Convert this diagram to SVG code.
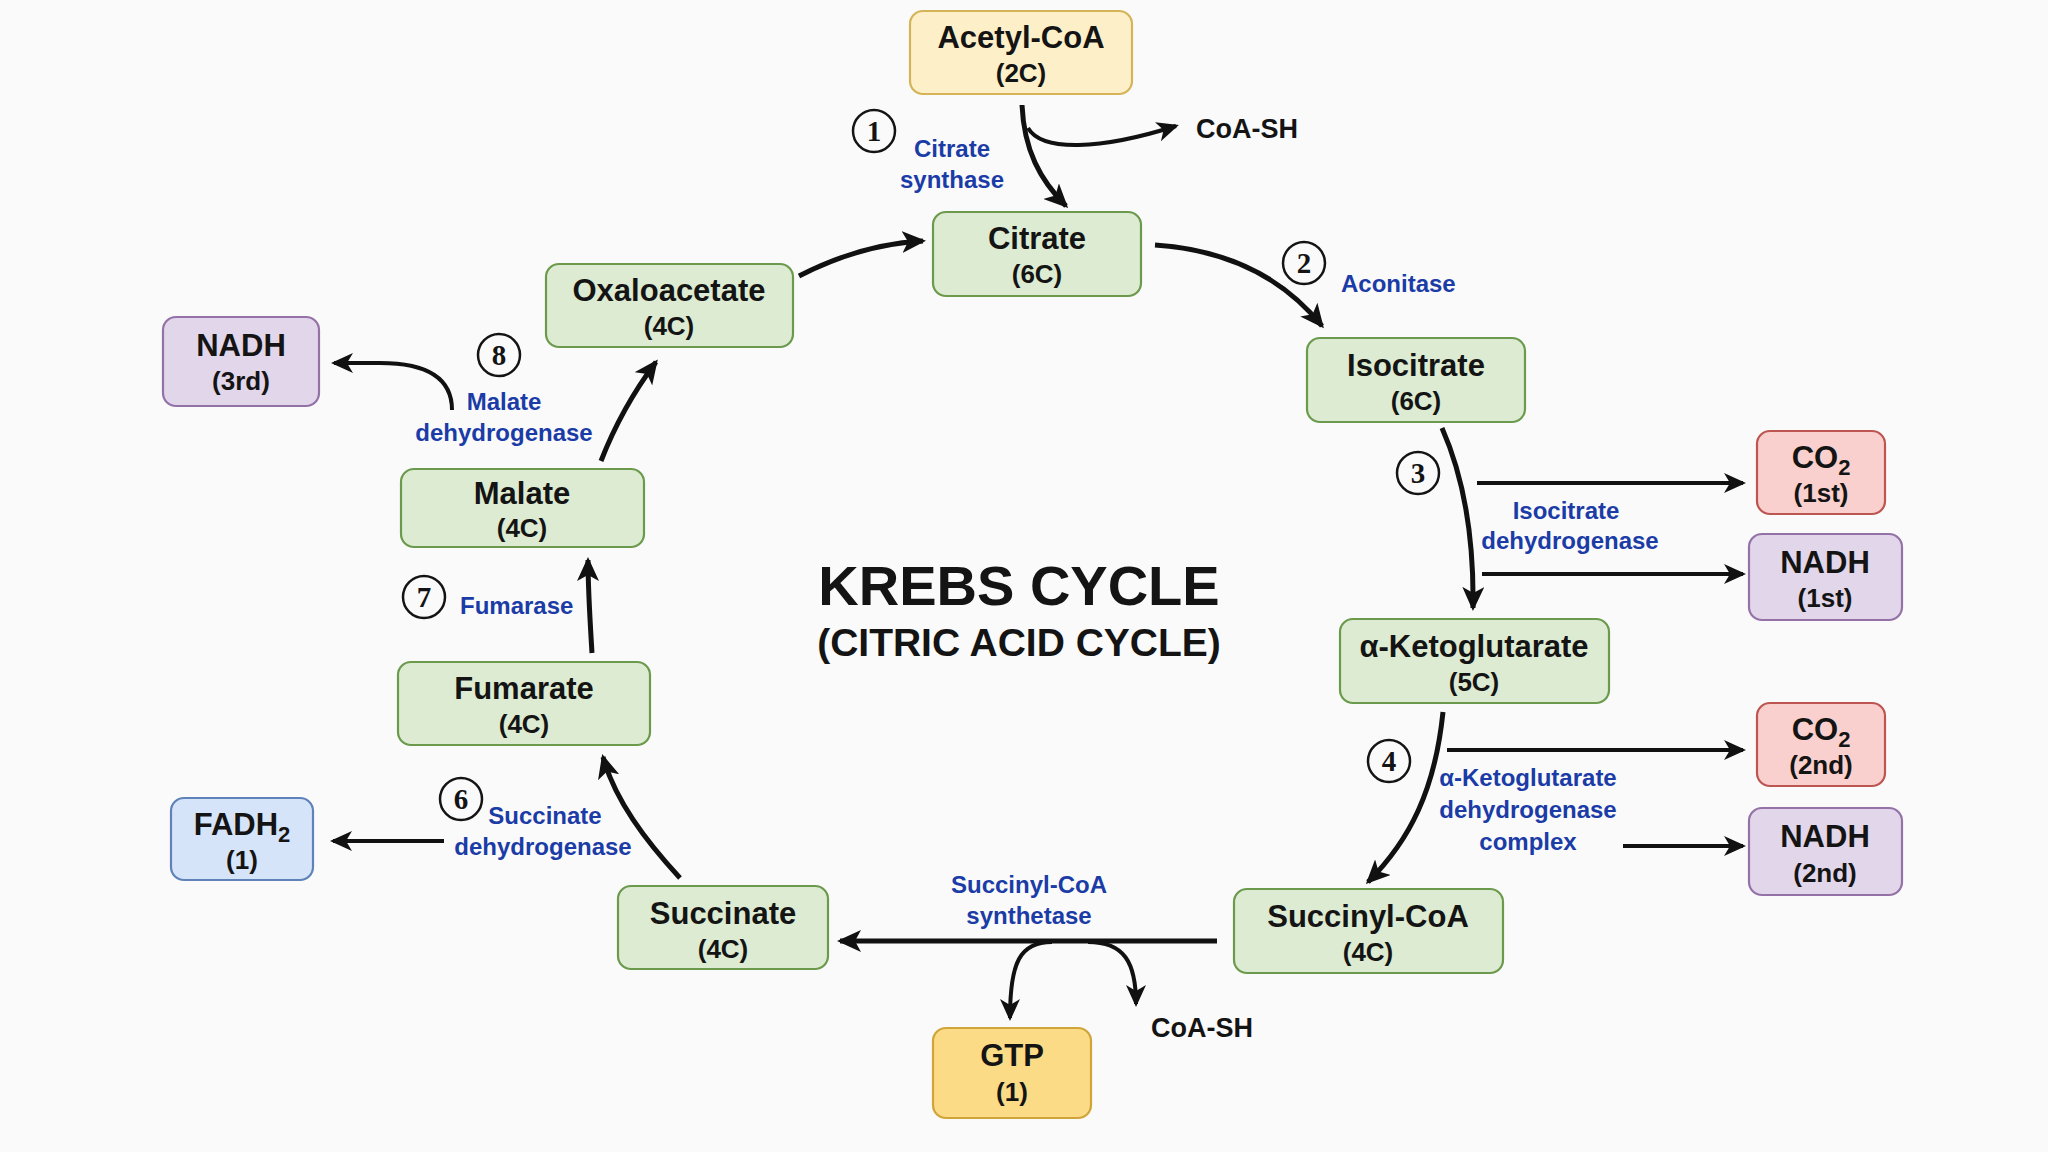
<svg xmlns="http://www.w3.org/2000/svg" width="2048" height="1152" viewBox="0 0 2048 1152">
<defs>
<style>
.box{stroke-width:2.2}
.g{fill:#dcebd1;stroke:#6b9a4c}
.y{fill:#fdf0c9;stroke:#d4b457}
.gtp{fill:#fcdb86;stroke:#cfa53a}
.r{fill:#f9d0cd;stroke:#bd5652}
.p{fill:#e2d6ea;stroke:#9472a8}
.b{fill:#d6e4f9;stroke:#5f82b8}
.m{font-family:"Liberation Sans",Arial,sans-serif;font-weight:bold;font-size:31px;fill:#141414;text-anchor:middle}
.s{font-family:"Liberation Sans",Arial,sans-serif;font-weight:bold;font-size:26px;fill:#141414;text-anchor:middle}
.e{font-family:"Liberation Sans",Arial,sans-serif;font-weight:bold;font-size:24px;fill:#1b3ca6;text-anchor:middle}
.es{font-family:"Liberation Sans",Arial,sans-serif;font-weight:bold;font-size:24px;fill:#1b3ca6;text-anchor:start}
.k{font-family:"Liberation Sans",Arial,sans-serif;font-weight:bold;font-size:27px;fill:#141414}
.n{font-family:"Liberation Serif","Times New Roman",serif;font-weight:bold;font-size:29px;fill:#141414;text-anchor:middle}
.c{fill:none;stroke:#141414;stroke-width:2.5}
.a{fill:none;stroke:#111;stroke-width:5;marker-end:url(#ah)}
.a2{fill:none;stroke:#111;stroke-width:4;marker-end:url(#ah2)}
</style>
<marker id="ah" viewBox="0 0 24 22" refX="21" refY="11" markerWidth="24" markerHeight="22" markerUnits="userSpaceOnUse" orient="auto">
<path d="M0,0 L24,11 L0,22 L6,11 z" fill="#111"/>
</marker>
<marker id="ah2" viewBox="0 0 22 20" refX="19" refY="10" markerWidth="22" markerHeight="20" markerUnits="userSpaceOnUse" orient="auto">
<path d="M0,0 L22,10 L0,20 L6,10 z" fill="#111"/>
</marker>
</defs>
<rect width="2048" height="1152" fill="#fafafa"/>

<g id="title">
<text x="1019" y="605" font-family="Liberation Sans,Arial,sans-serif" font-weight="bold" font-size="56" fill="#141414" text-anchor="middle">KREBS CYCLE</text>
<text x="1019" y="656" font-family="Liberation Sans,Arial,sans-serif" font-weight="bold" font-size="39" fill="#141414" text-anchor="middle">(CITRIC ACID CYCLE)</text>
</g>

<g id="connectors">
<path class="a" d="M1022,105 C1024,150 1040,180 1066,206"/>
<path class="a2" d="M1028,128 C1042,152 1100,150 1176,126"/>
<path class="a" d="M1155,245 C1230,250 1285,280 1322,326"/>
<path class="a" d="M1442,428 C1465,480 1474,540 1473,608"/>
<path class="a2" d="M1477,483 L1743,483"/>
<path class="a2" d="M1482,574 L1743,574"/>
<path class="a" d="M1443,712 C1435,790 1410,840 1368,882"/>
<path class="a2" d="M1447,750 L1743,750"/>
<path class="a2" d="M1623,846 L1743,846"/>
<path class="a" d="M1217,941 L840,941"/>
<path class="a2" d="M1052,942 C1020,942 1010,962 1010,1018"/>
<path class="a2" d="M1088,942 C1124,942 1136,962 1136,1004"/>
<path class="a" d="M680,878 C645,840 615,800 603,757"/>
<path class="a2" d="M444,841 L333,841"/>
<path class="a" d="M592,653 C590,620 588,590 588,560"/>
<path class="a" d="M601,461 C615,425 635,390 656,362"/>
<path class="a2" d="M452,410 C452,380 430,363 380,363 L334,363"/>
<path class="a" d="M799,276 C840,255 880,243 923,241"/>
</g>

<g id="acetylcoa"><rect class="box y" x="910" y="11" width="222" height="83" rx="13"/><text class="m" x="1021" y="48">Acetyl-CoA</text><text class="s" x="1021" y="82">(2C)</text></g>
<g id="citrate"><rect class="box g" x="933" y="212" width="208" height="84" rx="13"/><text class="m" x="1037" y="249">Citrate</text><text class="s" x="1037" y="283">(6C)</text></g>
<g id="isocitrate"><rect class="box g" x="1307" y="338" width="218" height="84" rx="13"/><text class="m" x="1416" y="376">Isocitrate</text><text class="s" x="1416" y="410">(6C)</text></g>
<g id="aketoglutarate"><rect class="box g" x="1340" y="619" width="269" height="84" rx="13"/><text class="m" x="1474" y="657">α-Ketoglutarate</text><text class="s" x="1474" y="691">(5C)</text></g>
<g id="succinylcoa"><rect class="box g" x="1234" y="889" width="269" height="84" rx="13"/><text class="m" x="1368" y="927">Succinyl-CoA</text><text class="s" x="1368" y="961">(4C)</text></g>
<g id="succinate"><rect class="box g" x="618" y="886" width="210" height="83" rx="13"/><text class="m" x="723" y="924">Succinate</text><text class="s" x="723" y="958">(4C)</text></g>
<g id="fumarate"><rect class="box g" x="398" y="662" width="252" height="83" rx="13"/><text class="m" x="524" y="699">Fumarate</text><text class="s" x="524" y="733">(4C)</text></g>
<g id="malate"><rect class="box g" x="401" y="469" width="243" height="78" rx="13"/><text class="m" x="522" y="504">Malate</text><text class="s" x="522" y="537">(4C)</text></g>
<g id="oxaloacetate"><rect class="box g" x="546" y="264" width="247" height="83" rx="13"/><text class="m" x="669" y="301">Oxaloacetate</text><text class="s" x="669" y="335">(4C)</text></g>
<g id="co2-1"><rect class="box r" x="1757" y="431" width="128" height="83" rx="13"/><text class="m" x="1821" y="468">CO<tspan font-size="22" dy="7">2</tspan></text><text class="s" x="1821" y="502">(1st)</text></g>
<g id="nadh-1"><rect class="box p" x="1749" y="534" width="153" height="86" rx="13"/><text class="m" x="1825" y="573">NADH</text><text class="s" x="1825" y="607">(1st)</text></g>
<g id="co2-2"><rect class="box r" x="1757" y="703" width="128" height="83" rx="13"/><text class="m" x="1821" y="740">CO<tspan font-size="22" dy="7">2</tspan></text><text class="s" x="1821" y="774">(2nd)</text></g>
<g id="nadh-2"><rect class="box p" x="1749" y="808" width="153" height="87" rx="13"/><text class="m" x="1825" y="847">NADH</text><text class="s" x="1825" y="882">(2nd)</text></g>
<g id="gtp"><rect class="box gtp" x="933" y="1028" width="158" height="90" rx="13"/><text class="m" x="1012" y="1066">GTP</text><text class="s" x="1012" y="1101">(1)</text></g>
<g id="nadh-3"><rect class="box p" x="163" y="317" width="156" height="89" rx="13"/><text class="m" x="241" y="356">NADH</text><text class="s" x="241" y="390">(3rd)</text></g>
<g id="fadh2"><rect class="box b" x="171" y="798" width="142" height="82" rx="13"/><text class="m" x="242" y="835">FADH<tspan font-size="22" dy="7">2</tspan></text><text class="s" x="242" y="869">(1)</text></g>

<g id="labels">
<text class="k" x="1196" y="138">CoA-SH</text>
<text class="k" x="1151" y="1037">CoA-SH</text>
<text class="e" x="952" y="157">Citrate</text><text class="e" x="952" y="188">synthase</text>
<text class="es" x="1341" y="292">Aconitase</text>
<text class="e" x="1566" y="519">Isocitrate</text><text class="e" x="1570" y="549">dehydrogenase</text>
<text class="e" x="1528" y="786">α-Ketoglutarate</text><text class="e" x="1528" y="818">dehydrogenase</text><text class="e" x="1528" y="850">complex</text>
<text class="e" x="1029" y="893">Succinyl-CoA</text><text class="e" x="1029" y="924">synthetase</text>
<text class="e" x="545" y="824">Succinate</text><text class="e" x="543" y="855">dehydrogenase</text>
<text class="es" x="460" y="614">Fumarase</text>
<text class="e" x="504" y="410">Malate</text><text class="e" x="504" y="441">dehydrogenase</text>
</g>

<g id="steps">
<circle class="c" cx="874" cy="131" r="21"/><text class="n" x="874" y="141">1</text>
<circle class="c" cx="1304" cy="263" r="21"/><text class="n" x="1304" y="273">2</text>
<circle class="c" cx="1418" cy="473" r="21"/><text class="n" x="1418" y="483">3</text>
<circle class="c" cx="1389" cy="761" r="21"/><text class="n" x="1389" y="771">4</text>
<circle class="c" cx="461" cy="799" r="21"/><text class="n" x="461" y="809">6</text>
<circle class="c" cx="424" cy="597" r="21"/><text class="n" x="424" y="607">7</text>
<circle class="c" cx="499" cy="355" r="21"/><text class="n" x="499" y="365">8</text>
</g>
</svg>
